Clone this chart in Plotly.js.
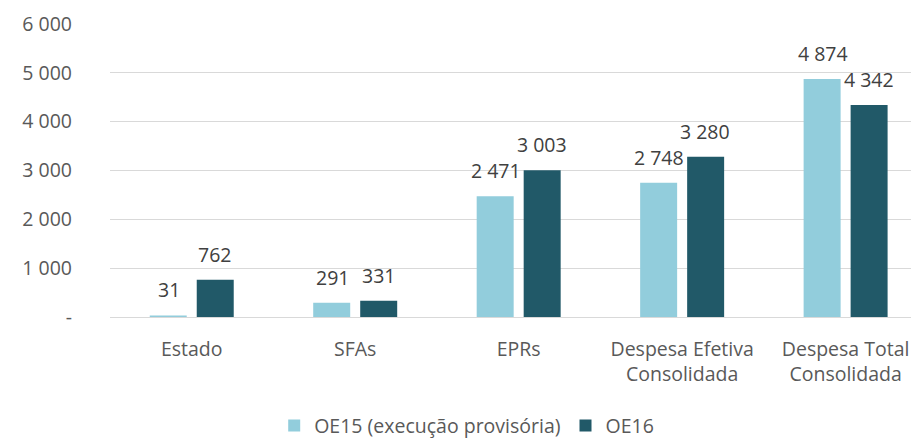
<!DOCTYPE html>
<html><head><meta charset="utf-8">
<script src="https://cdn.plot.ly/plotly-3.0.1.min.js"></script>
<style>body{margin:0;background:#fff}#c{width:911px;height:439px}</style>
</head><body><div id="c"></div>
<script>
const categories = ["Estado", "SFAs", "EPRs", "Despesa Efetiva<br>Consolidada", "Despesa Total<br>Consolidada"];
const oe15 = [31, 291, 2471, 2748, 4874];
const oe16 = [762, 331, 3003, 3280, 4342];
const seriesNames = ["OE15 (execução provisória)", "OE16"];
const yTickVals = [0, 1000, 2000, 3000, 4000, 5000, 6000];
const yTickText = ["-", "1 000", "2 000", "3 000", "4 000", "5 000", "6 000"];

const fontFam = "'Open Sans', 'Noto Sans', sans-serif";
const fmt = v => String(v).replace(/\B(?=(\d{3})+(?!\d))/g, ' ');
const traces = [
  {type:'bar', name:seriesNames[0], x:categories, y:oe15, marker:{color:'#92CDDC'}},
  {type:'bar', name:seriesNames[1], x:categories, y:oe16, marker:{color:'#215968'}}
];
const annotations = [];
[[oe15, -23], [oe16, 23]].forEach(([vals, dx]) => {
  vals.forEach((v, i) => annotations.push({
    x: categories[i], y: v, xref:'x', yref:'y', text: fmt(v), showarrow:false,
    xshift: dx, yshift: 10, yanchor:'bottom',
    font:{family:fontFam, size:19.5, color:'#404040'}
  }));
});
const layout = {
  width:911, height:439,
  margin:{l:110, r:0, t:24, b:122, autoexpand:false},
  barmode:'group', bargap:0.425, bargroupgap:0.213,
  paper_bgcolor:'#fff', plot_bgcolor:'#fff',
  font:{family:fontFam, size:19.5, color:'#595959'},
  showlegend:true,
  annotations: annotations,
  legend:{orientation:'h', x:0.205, xanchor:'left', yref:'container', y:0.03, yanchor:'middle',
    font:{family:fontFam, size:19.5, color:'#595959'}, itemwidth:30, tracegroupgap:0},
  xaxis:{type:'category', range:[-0.5, 4.4], tickfont:{family:fontFam, size:19.5, color:'#595959'},
    showgrid:false, zeroline:false, showline:false, ticks:'', ticklabelstandoff:18},
  yaxis:{range:[0, 6000], tickvals:yTickVals, ticktext:yTickText,
    showgrid:true, gridcolor:'#D9D9D9', gridwidth:1, zeroline:true, zerolinecolor:'#D9D9D9',
    tickfont:{family:fontFam, size:19.5, color:'#595959'}, ticklabelstandoff:37, showline:false}
};
Plotly.newPlot('c', traces, layout, {displayModeBar:false, staticPlot:true});
</script></body></html>
